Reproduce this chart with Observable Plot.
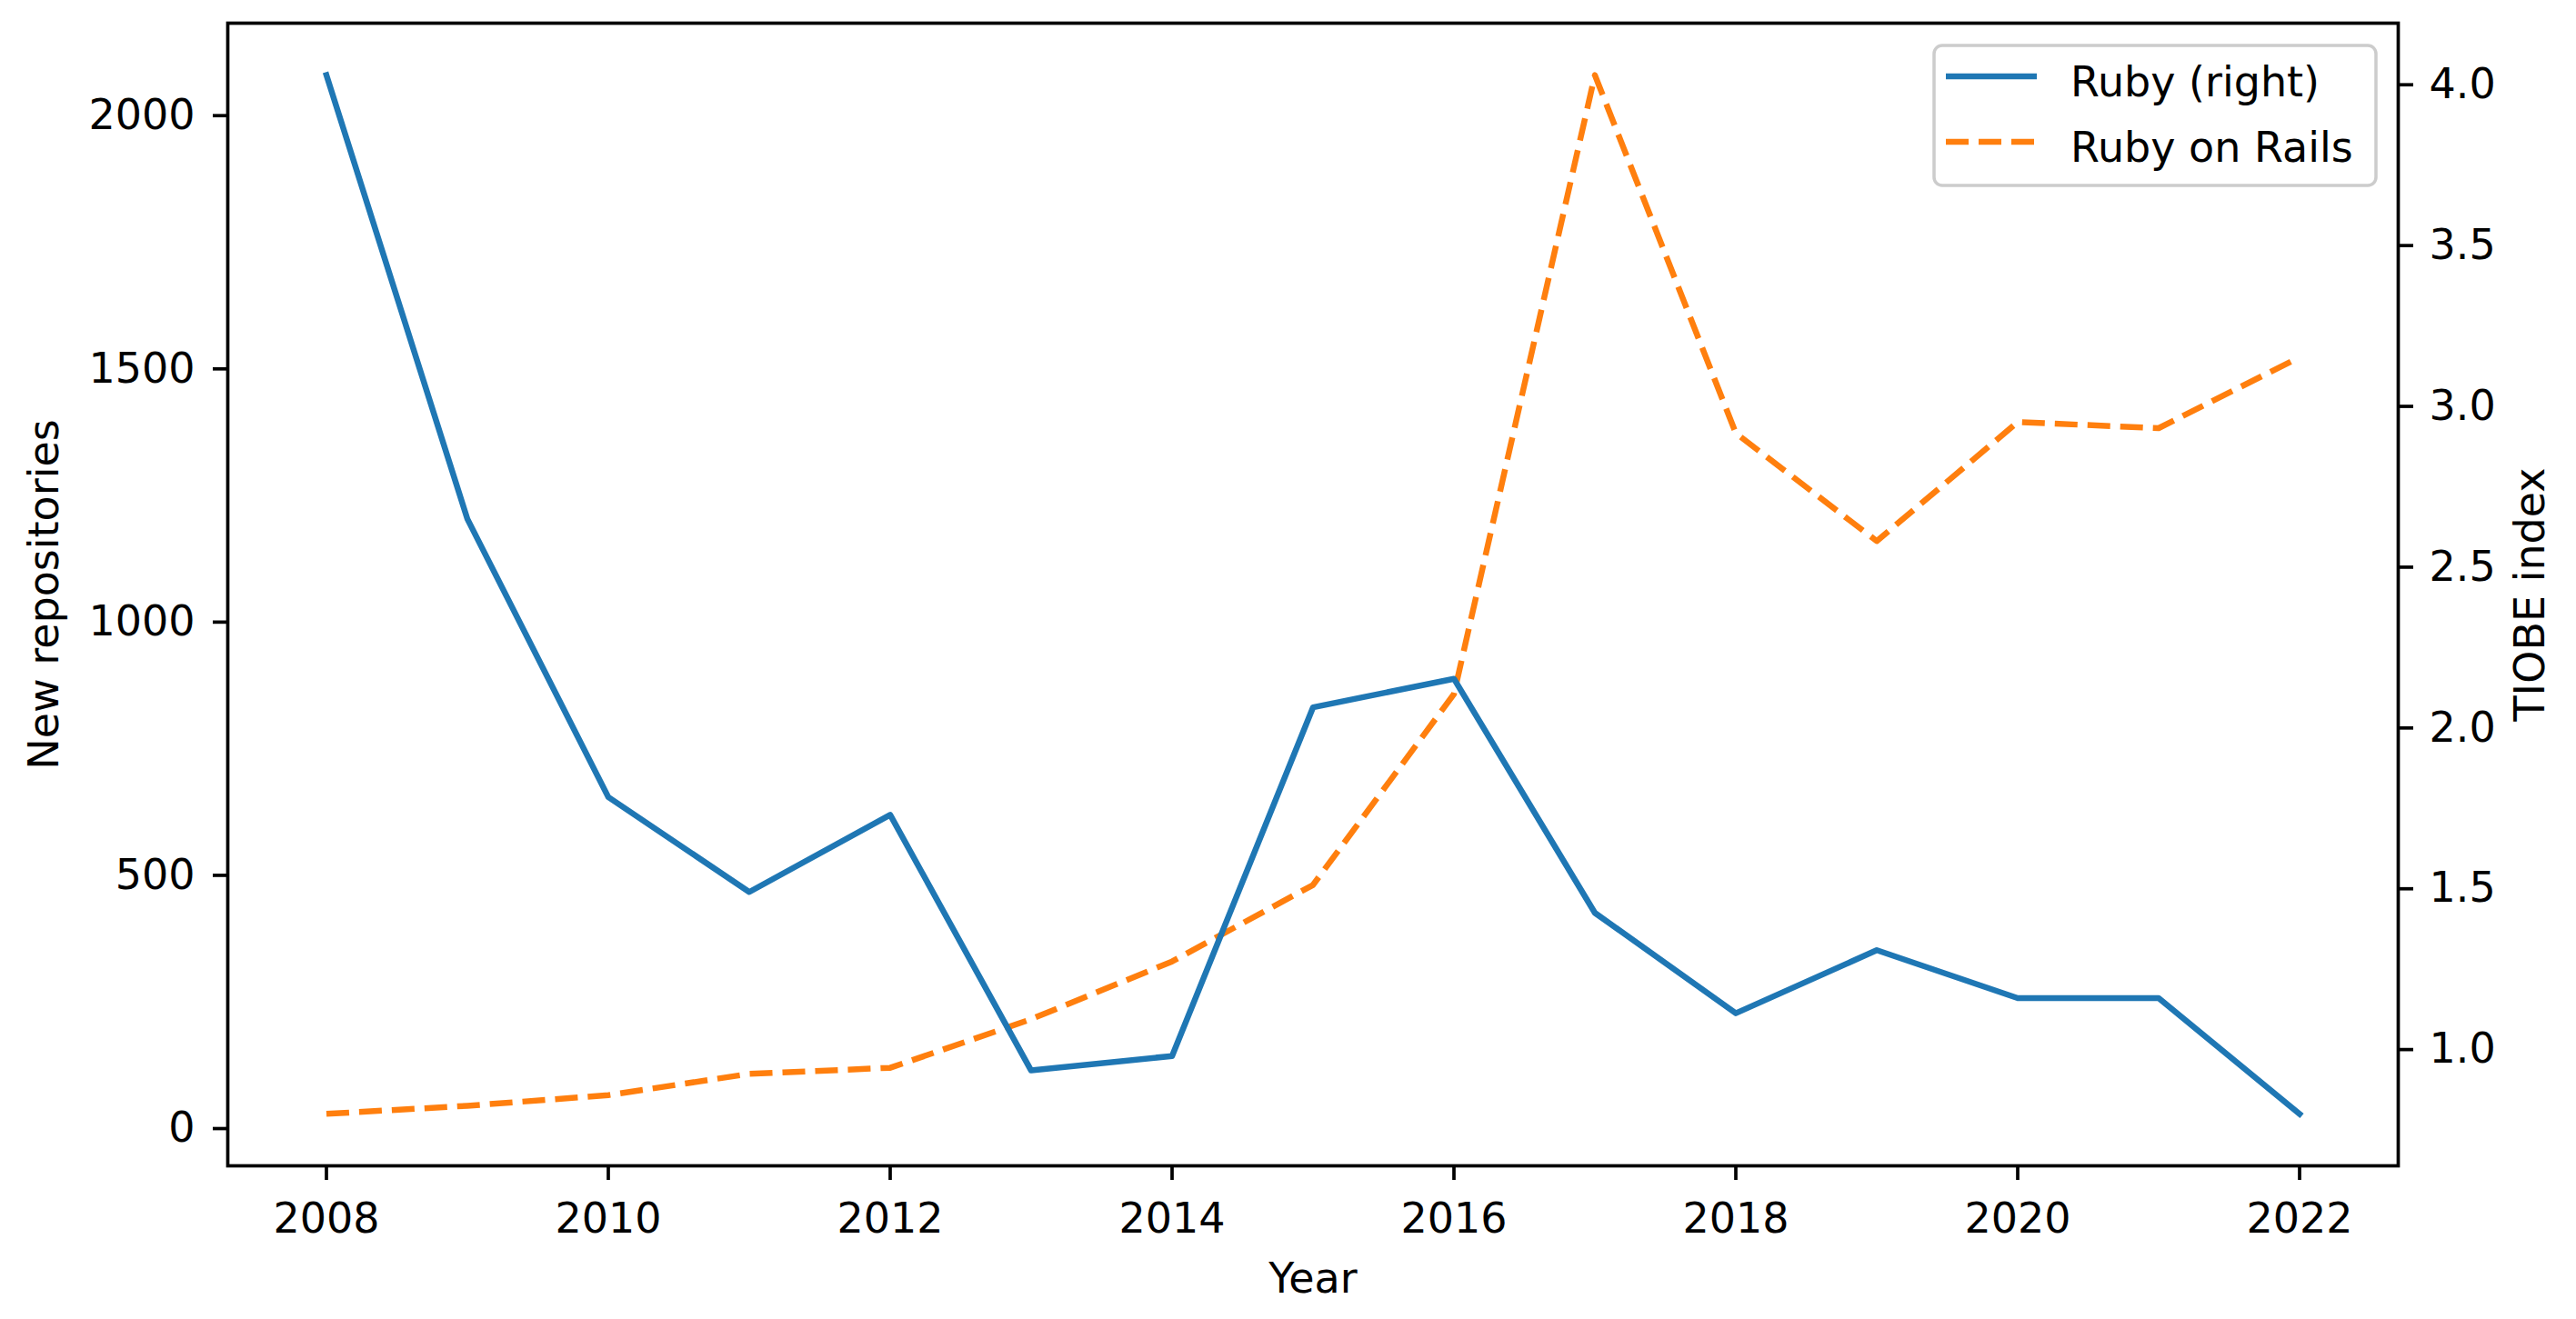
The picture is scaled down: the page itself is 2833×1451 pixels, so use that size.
<!DOCTYPE html>
<html>
<head>
<meta charset="utf-8">
<script src="https://cdn.jsdelivr.net/npm/d3@7"></script>
<script src="https://cdn.jsdelivr.net/npm/@observablehq/plot@0.6"></script>
<style>
  html, body { margin: 0; padding: 0; background: #fff; }
  #chart { position: relative; width: 2833px; height: 1451px; font-family: "DejaVu Sans", sans-serif; }
  #chart svg.legend { position: absolute; left: 0; top: 0; pointer-events: none; }
</style>
</head>
<body>
<div id="chart"></div>
<script>
// ---- data ----
const years = [2008, 2009, 2010, 2011, 2012, 2013, 2014, 2015, 2016, 2017, 2018, 2019, 2020, 2021, 2022];
// Ruby, TIOBE index (right axis)
const rubyTiobe = [4.03, 2.65, 1.785, 1.49, 1.73, 0.935, 0.98, 2.064, 2.153, 1.425, 1.113, 1.309, 1.16, 1.16, 0.80];
// Ruby on Rails, new repositories (left axis)
const railsRepos = [29, 45, 66, 108, 120, 216, 330, 481, 858, 2080, 1373, 1160, 1395, 1383, 1523];
const xTicks = [2008, 2010, 2012, 2014, 2016, 2018, 2020, 2022];
const leftTicks = [0, 500, 1000, 1500, 2000];
const rightTicks = [1.0, 1.5, 2.0, 2.5, 3.0, 3.5, 4.0];
const seriesNames = ["Ruby (right)", "Ruby on Rails"];
const seriesColors = ["#1f77b4", "#ff7f0e"];
const axisTitles = {x: "Year", left: "New repositories", right: "TIOBE index"};

// matplotlib-style autoscale: 5% margin on each side
function padded(values) {
  const lo = d3.min(values), hi = d3.max(values), r = hi - lo;
  return [lo - 0.05 * r, hi + 0.05 * r];
}
const xDomain = padded(years);
const leftDomain = padded(railsRepos);
const rightDomain = padded(rubyTiobe);
// map right-axis values onto the left scale (twin axis)
const toLeft = d3.scaleLinear().domain(rightDomain).range(leftDomain);

const data = years.map((year, i) => ({
  year,
  ruby: rubyTiobe[i],
  rubyOnLeft: toLeft(rubyTiobe[i]),
  rails: railsRepos[i]
}));

const W = 2833, H = 1451;
const LW = 6.5;

const chart = Plot.plot({
  width: W,
  height: H,
  marginLeft: 250,
  marginRight: 196,
  marginTop: 25,
  marginBottom: 169,
  style: {fontFamily: "DejaVu Sans", fontSize: "46px", color: "#000", background: "#fff", overflow: "visible"},
  x: {domain: xDomain},
  y: {domain: leftDomain},
  marks: [
    Plot.line(data, {x: "year", y: "rails", stroke: seriesColors[1], strokeWidth: LW,
      strokeDasharray: "25,11", strokeLinecap: "butt", strokeLinejoin: "round"}),
    Plot.line(data, {x: "year", y: "rubyOnLeft", stroke: seriesColors[0], strokeWidth: LW,
      strokeLinecap: "square", strokeLinejoin: "round"}),
    Plot.frame({stroke: "#000", strokeWidth: 3.7}),
    Plot.axisX({ticks: xTicks, tickFormat: d => String(d), tickSize: 16, tickPadding: 25,
      strokeWidth: 3.7, label: axisTitles.x, labelAnchor: "center", labelArrow: "none", labelOffset: 139}),
    Plot.axisY({anchor: "left", ticks: leftTicks, tickFormat: d => String(d), tickSize: 16, tickPadding: 20,
      strokeWidth: 3.7, label: axisTitles.left, labelAnchor: "center", labelArrow: "none", labelOffset: 219}),
    Plot.axisY({anchor: "right", ticks: rightTicks.map(toLeft), tickFormat: v => toLeft.invert(v).toFixed(1),
      tickSize: 16, tickPadding: 18, strokeWidth: 3.7,
      label: axisTitles.right, labelAnchor: "center", labelArrow: "none", labelOffset: 160})
  ]
});

const root = document.getElementById("chart");
root.appendChild(chart);

// ---- legend (upper right, inside the frame) ----
const leg = d3.select(root).append("svg")
  .attr("class", "legend")
  .attr("width", W).attr("height", H)
  .style("font-family", "DejaVu Sans").style("font-size", "46px");
const box = {x: 2127, y: 50, w: 486, h: 154};
leg.append("rect")
  .attr("x", box.x).attr("y", box.y).attr("width", box.w).attr("height", box.h)
  .attr("rx", 9).attr("fill", "#fff").attr("fill-opacity", 0.8)
  .attr("stroke", "#cccccc").attr("stroke-width", 3.5);
const rowsY = [84, 156];
seriesNames.forEach((name, i) => {
  leg.append("line")
    .attr("x1", 2140).attr("x2", 2240).attr("y1", rowsY[i]).attr("y2", rowsY[i])
    .attr("stroke", seriesColors[i]).attr("stroke-width", LW)
    .attr("stroke-dasharray", i === 1 ? "25,11" : null)
    .attr("stroke-linecap", "butt");
  leg.append("text")
    .attr("x", 2277).attr("y", rowsY[i] + 22)
    .attr("fill", "#000")
    .text(name);
});
</script>
</body>
</html>
